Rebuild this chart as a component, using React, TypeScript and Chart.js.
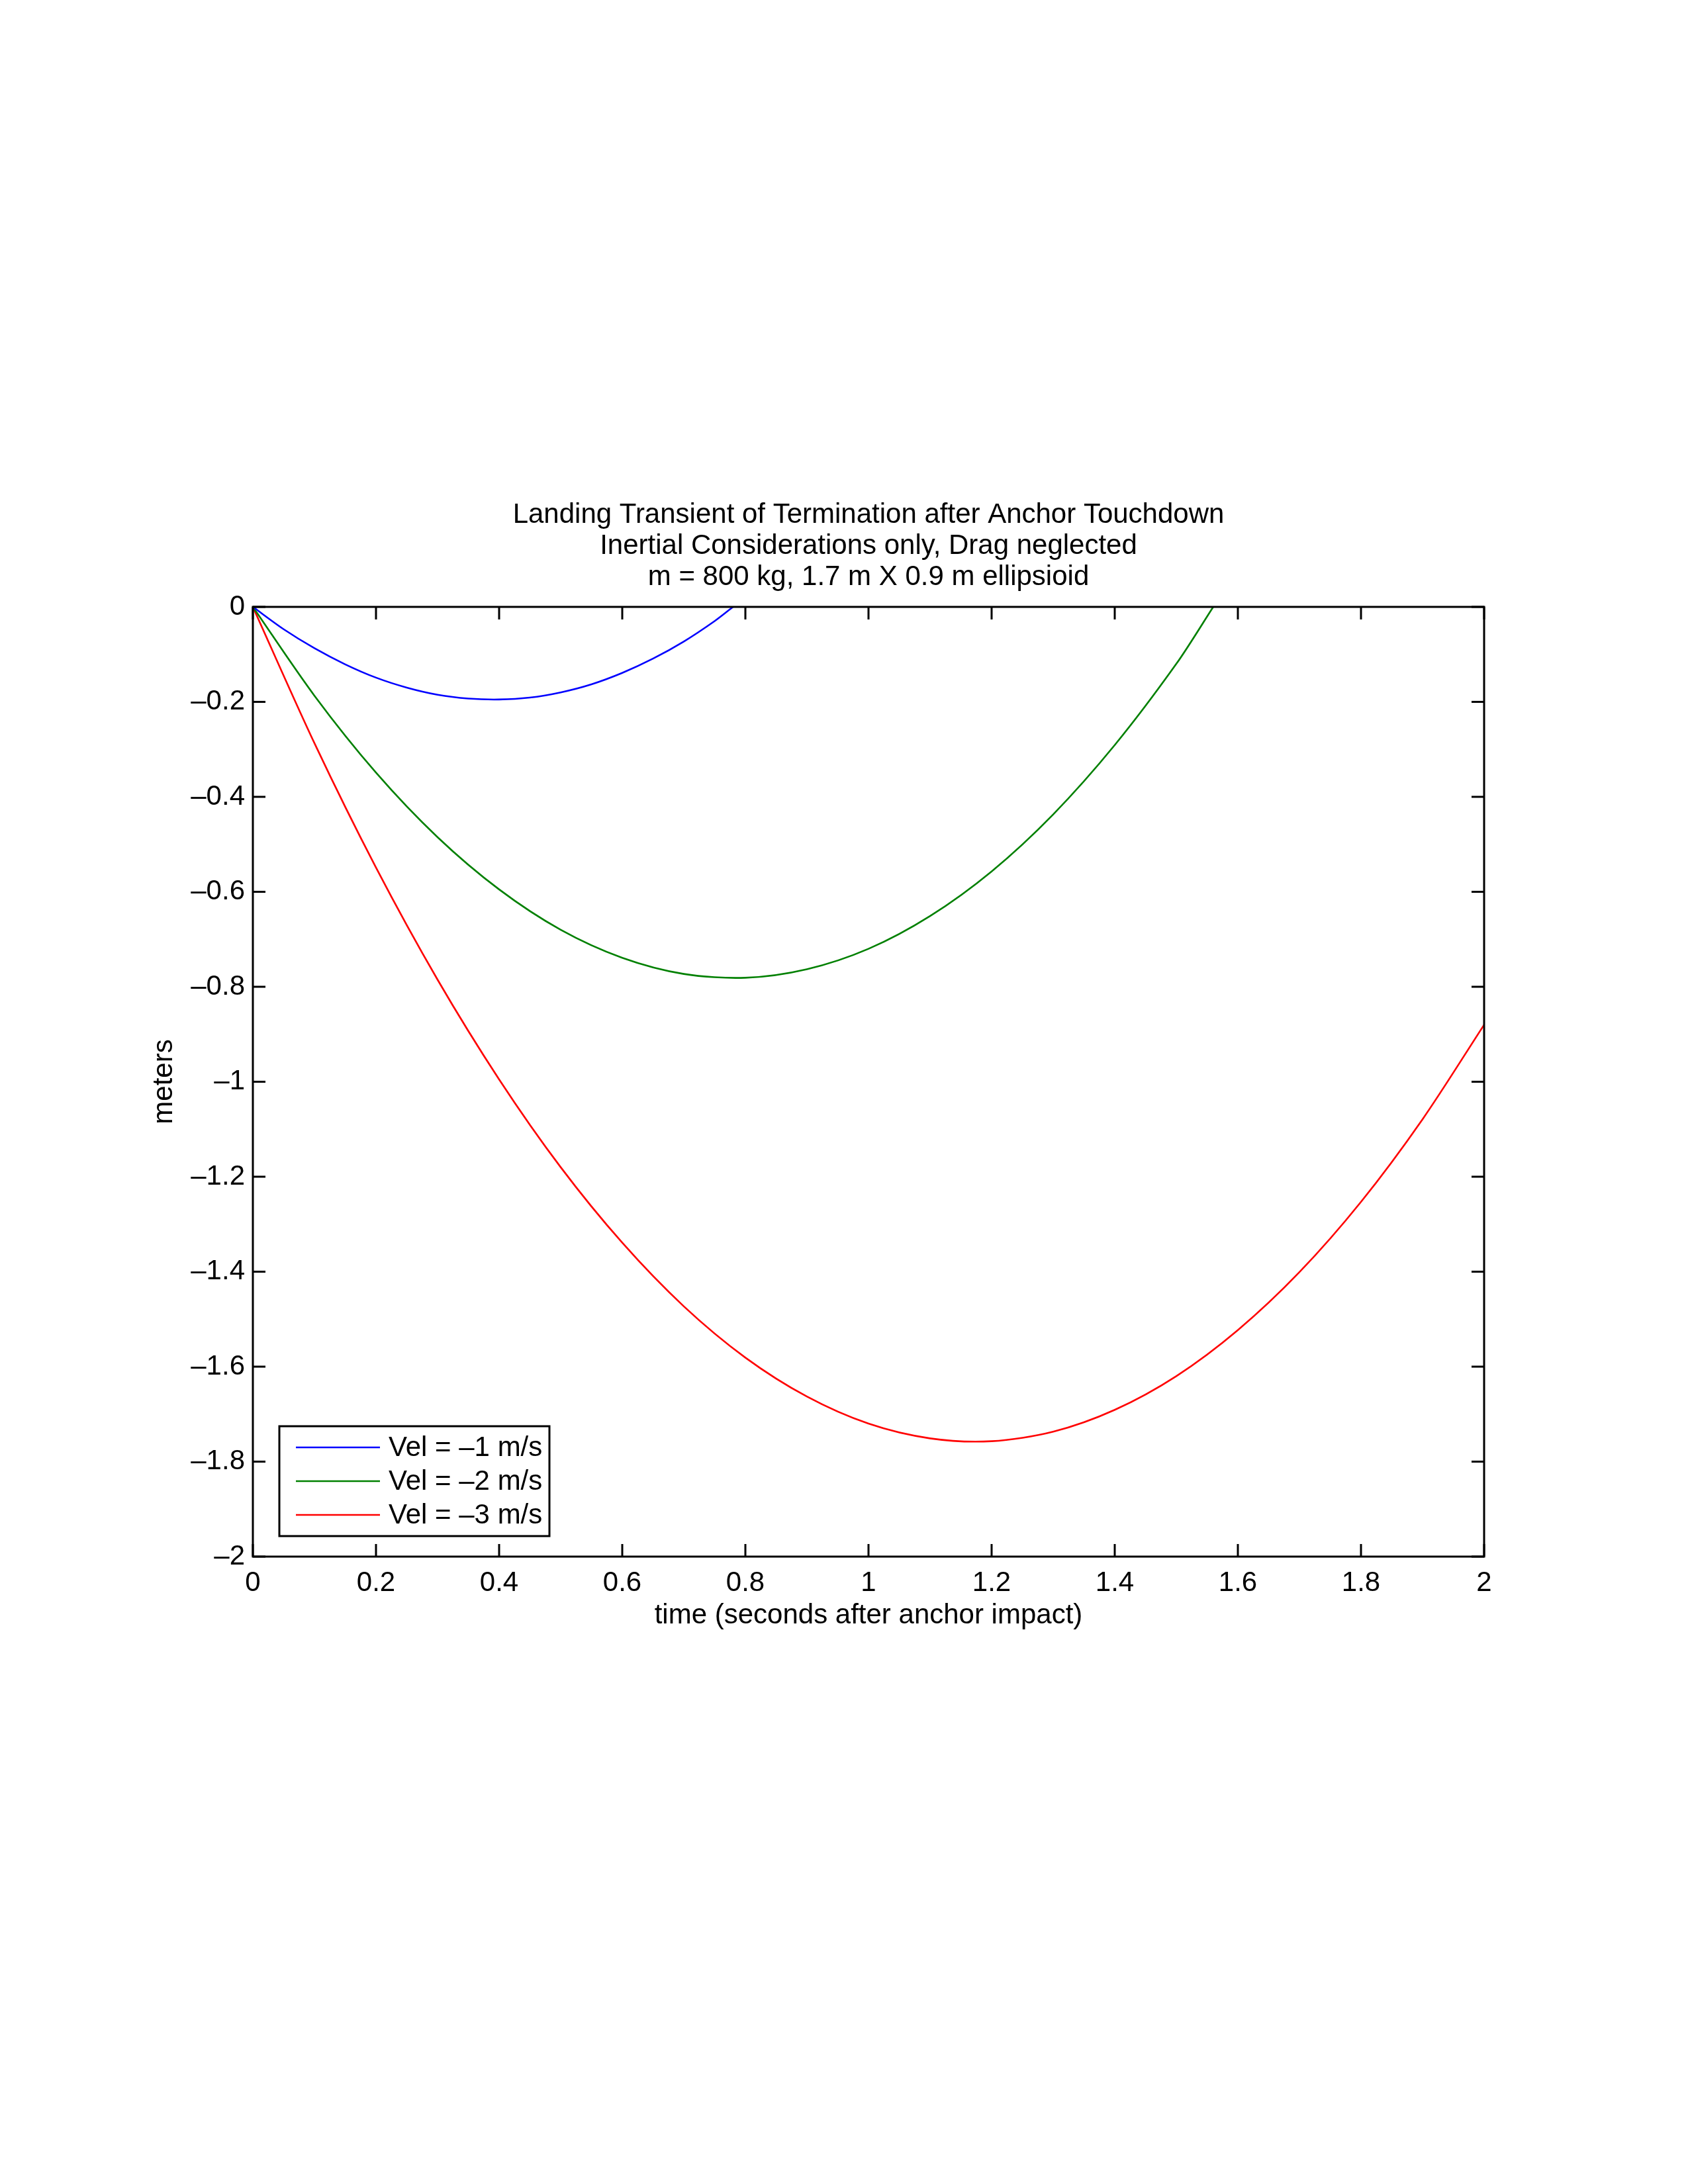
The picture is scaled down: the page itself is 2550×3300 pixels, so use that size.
import React, { useEffect, useRef } from 'react';
import { Chart, registerables } from 'chart.js';

Chart.register(...registerables);

const FONT = "'Liberation Sans', Arial, Helvetica, sans-serif";
const FS = 42;

const titleLines = [
  'Landing Transient of Termination after Anchor Touchdown',
  'Inertial Considerations only, Drag neglected',
  'm = 800 kg, 1.7 m X 0.9 m ellipsioid',
];
const xAxisTitle = 'time (seconds after anchor impact)';
const yAxisTitle = 'meters';

const xTickLabels = ['0', '0.2', '0.4', '0.6', '0.8', '1', '1.2', '1.4', '1.6', '1.8', '2'];
const yTickLabels = ['\u20132', '\u20131.8', '\u20131.6', '\u20131.4', '\u20131.2', '\u20131', '\u20130.8', '\u20130.6', '\u20130.4', '\u20130.2', '0'];

const seriesLabels = ['Vel = \u20131 m/s', 'Vel = \u20132 m/s', 'Vel = \u20133 m/s'];
const seriesColors = ['#0000ff', '#008000', '#ff0000'];

// Vel = -1 m/s
const blueTime = [0, 0.05, 0.1, 0.15, 0.2, 0.25, 0.3, 0.35, 0.4, 0.45, 0.5, 0.55, 0.6, 0.65, 0.7, 0.75, 0.78];
const blueMeters = [0, -0.047, -0.087, -0.121, -0.149, -0.17, -0.185, -0.193, -0.195, -0.191, -0.18, -0.163, -0.139, -0.109, -0.073, -0.03, 0];

// Vel = -2 m/s
const greenTime = [0, 0.1, 0.2, 0.3, 0.4, 0.5, 0.6, 0.7, 0.8, 0.9, 1.0, 1.1, 1.2, 1.3, 1.4, 1.5, 1.56];
const greenMeters = [0, -0.187, -0.349, -0.485, -0.595, -0.68, -0.739, -0.773, -0.781, -0.763, -0.72, -0.651, -0.557, -0.437, -0.291, -0.12, 0];

// Vel = -3 m/s
const redTime = [0, 0.1, 0.2, 0.3, 0.4, 0.5, 0.6, 0.7, 0.8, 0.9, 1.0, 1.1, 1.2, 1.3, 1.4, 1.5, 1.6, 1.7, 1.8, 1.9, 2.0];
const redMeters = [0, -0.287, -0.549, -0.785, -0.995, -1.18, -1.339, -1.473, -1.581, -1.663, -1.72, -1.751, -1.757, -1.737, -1.691, -1.62, -1.523, -1.401, -1.253, -1.079, -0.88];

const X_MIN = 0;
const X_MAX = 2;
const X_STEP = 0.2;
const Y_MIN = -2;
const Y_MAX = 0;
const Y_STEP = 0.2;

const toPoints = (xs: number[], ys: number[]) => xs.map((x, i) => ({ x, y: ys[i] }));

const matlabFramePlugin = {
  id: 'matlabFrame',
  afterDraw(chart: any) {
    const { ctx, chartArea: a, scales } = chart;
    const xs = scales.x;
    const ys = scales.y;
    ctx.save();
    ctx.strokeStyle = '#000';
    ctx.lineWidth = 3;
    ctx.strokeRect(a.left, a.top, a.right - a.left, a.bottom - a.top);
    const L = 19;
    ctx.beginPath();
    xs.ticks.forEach((t: any) => {
      const px = xs.getPixelForValue(t.value);
      ctx.moveTo(px, a.bottom);
      ctx.lineTo(px, a.bottom - L);
      ctx.moveTo(px, a.top);
      ctx.lineTo(px, a.top + L);
    });
    ys.ticks.forEach((t: any) => {
      const py = ys.getPixelForValue(t.value);
      ctx.moveTo(a.left, py);
      ctx.lineTo(a.left + L, py);
      ctx.moveTo(a.right, py);
      ctx.lineTo(a.right - L, py);
    });
    ctx.stroke();

    // legend box (bottom-left inside plot)
    const bx = a.left + 40;
    const bw = 408;
    const bh = 166;
    const by = a.bottom - 31 - bh;
    ctx.fillStyle = '#fff';
    ctx.fillRect(bx, by, bw, bh);
    ctx.lineWidth = 3;
    ctx.strokeRect(bx, by, bw, bh);
    ctx.font = `${FS}px ${FONT}`;
    ctx.textBaseline = 'middle';
    ctx.textAlign = 'left';
    chart.data.datasets.forEach((ds: any, i: number) => {
      const ry = by + 32 + i * 51;
      ctx.strokeStyle = ds.borderColor;
      ctx.lineWidth = 2.6;
      ctx.beginPath();
      ctx.moveTo(bx + 25, ry);
      ctx.lineTo(bx + 152, ry);
      ctx.stroke();
      ctx.fillStyle = '#000';
      ctx.fillText(ds.label, bx + 165, ry + 1);
    });
    ctx.restore();
  },
};

export default function App() {
  const canvasRef = useRef<HTMLCanvasElement | null>(null);

  useEffect(() => {
    if (!canvasRef.current) return;
    Chart.defaults.color = '#000';
    const chart = new Chart(canvasRef.current, {
      type: 'line',
      data: {
        datasets: [
          { label: seriesLabels[0], data: toPoints(blueTime, blueMeters), borderColor: seriesColors[0] },
          { label: seriesLabels[1], data: toPoints(greenTime, greenMeters), borderColor: seriesColors[1] },
          { label: seriesLabels[2], data: toPoints(redTime, redMeters), borderColor: seriesColors[2] },
        ].map((d) => ({
          ...d,
          backgroundColor: d.borderColor,
          borderWidth: 2.6,
          pointRadius: 0,
          tension: 0.3,
          fill: false,
        })),
      },
      options: {
        animation: false,
        responsive: false,
        layout: { padding: { top: 755, left: 200, right: 308, bottom: 833 } },
        plugins: {
          legend: { display: false },
          tooltip: { enabled: false },
          title: {
            display: true,
            text: titleLines,
            fullSize: false,
            color: '#000',
            font: { family: FONT, size: FS, weight: 'normal', lineHeight: 47 / FS },
            padding: { top: 0, bottom: 21 },
          },
        },
        scales: {
          x: {
            type: 'linear',
            min: X_MIN,
            max: X_MAX,
            grid: { display: false, drawTicks: false },
            border: { display: false },
            afterFit: (s: any) => {
              s.height = 115;
            },
            ticks: {
              stepSize: X_STEP,
              autoSkip: false,
              maxRotation: 0,
              padding: 15,
              color: '#000',
              font: { family: FONT, size: FS, lineHeight: 1.2 },
              callback: (v: any) => xTickLabels[Math.round((Number(v) - X_MIN) / X_STEP)],
            },
            title: {
              display: true,
              text: xAxisTitle,
              color: '#000',
              font: { family: FONT, size: FS, lineHeight: 1.2 },
              padding: { top: 0, bottom: 0 },
            },
          },
          y: {
            type: 'linear',
            min: Y_MIN,
            max: Y_MAX,
            grid: { display: false, drawTicks: false },
            border: { display: false },
            afterFit: (s: any) => {
              s.width = 182;
            },
            ticks: {
              stepSize: Y_STEP,
              autoSkip: false,
              padding: 12,
              color: '#000',
              font: { family: FONT, size: FS, lineHeight: 1.2 },
              callback: (v: any) => yTickLabels[Math.round((Number(v) - Y_MIN) / Y_STEP)],
            },
            title: {
              display: true,
              text: yAxisTitle,
              color: '#000',
              font: { family: FONT, size: FS, lineHeight: 1.2 },
              padding: { top: 23, bottom: 0 },
            },
          },
        },
      },
      plugins: [matlabFramePlugin],
    } as any);
    return () => chart.destroy();
  }, []);

  return (
    <div style={{ position: 'absolute', left: 0, top: 0, width: 2550, height: 3300, background: '#fff' }}>
      <canvas ref={canvasRef} width={2550} height={3300} style={{ display: 'block', width: 2550, height: 3300 }} />
    </div>
  );
}
